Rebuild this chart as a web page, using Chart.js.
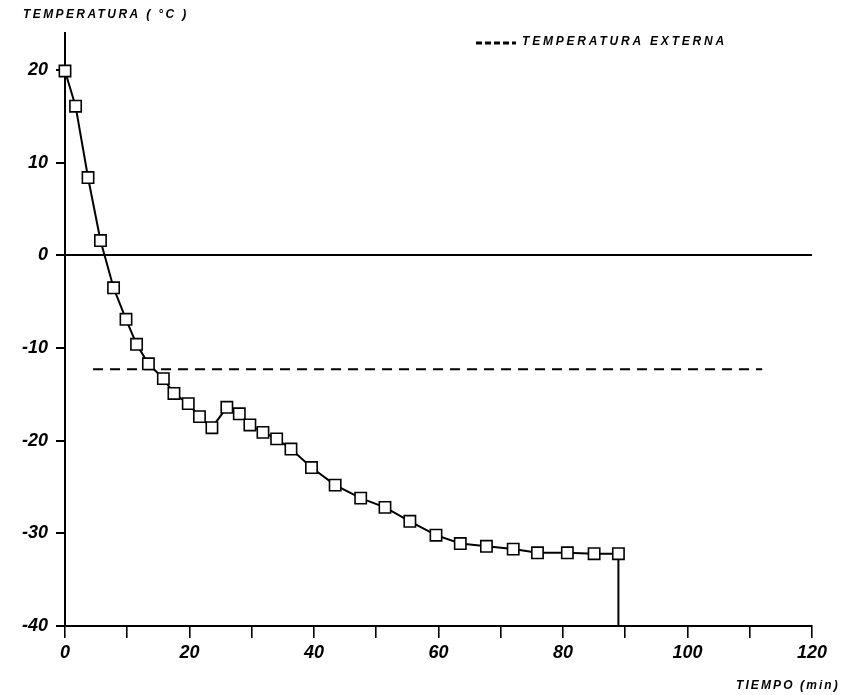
<!DOCTYPE html>
<html lang="es">
  <head>
    <meta charset="UTF-8" />
    <title>Temperatura vs tiempo</title>
    <script src="https://cdn.jsdelivr.net/npm/chart.js@4.4.0/dist/chart.umd.min.js"></script>
    <style>
      body { margin: 0; background: #fff; }
    </style>
  </head>
  <body>
    <canvas id="chart" width="848" height="695"></canvas>
    <script>
      // lecturas del grafico (min, °C)
      const timeMin = [0, 1.7, 3.7, 5.7, 7.8, 9.8, 11.5, 13.4, 15.8, 17.5, 19.8, 21.6, 23.6, 26.0, 28.0, 29.7,
        31.8, 34.0, 36.3, 39.6, 43.4, 47.5, 51.4, 55.4, 59.6, 63.5, 67.7, 72.0, 75.9, 80.7, 85.0, 88.9];
      const tempC = [19.9, 16.1, 8.4, 1.6, -3.5, -6.9, -9.6, -11.7, -13.3, -14.9, -16.0, -17.4, -18.6, -16.4, -17.1, -18.3,
        -19.1, -19.8, -20.9, -22.9, -24.8, -26.2, -27.2, -28.7, -30.2, -31.1, -31.4, -31.7, -32.1, -32.1, -32.2, -32.2];
      // temperatura externa (linea discontinua)
      const extTime = [4.5, 112];
      const extTemp = [-12.3, -12.3];
      // caida final hasta el eje
      const dropTemp = -40;

      const xTicks = [0, 10, 20, 30, 40, 50, 60, 70, 80, 90, 100, 110, 120];
      const yTicks = [-40, -30, -20, -10, 0, 10, 20];

      const FONT = '"Liberation Sans", Arial, sans-serif';

      const series = timeMin.map((t, i) => ({ x: t, y: tempC[i] }));
      const ext = extTime.map((t, i) => ({ x: t, y: extTemp[i] }));
      const last = series[series.length - 1];
      const drop = [{ x: last.x, y: last.y }, { x: last.x, y: dropTemp }];

      const labelsPlugin = {
        id: 'labels',
        afterDraw(chart) {
          const ctx = chart.ctx;
          ctx.save();
          ctx.fillStyle = '#000';
          ctx.textBaseline = 'middle';
          ctx.font = 'italic 900 12px ' + FONT;
          ctx.letterSpacing = '2.4px';
          ctx.fillText('TEMPERATURA ( °C )', 23, 15);
          ctx.letterSpacing = '2.8px';
          ctx.fillText('TEMPERATURA EXTERNA', 522, 42);
          ctx.letterSpacing = '2.1px';
          ctx.fillText('TIEMPO (min)', 736, 686);
          // muestra de la leyenda
          ctx.strokeStyle = '#000';
          ctx.lineWidth = 3;
          ctx.setLineDash([6, 3]);
          ctx.beginPath();
          ctx.moveTo(476, 43);
          ctx.lineTo(516, 43);
          ctx.stroke();
          ctx.restore();
        }
      };

      new Chart(document.getElementById('chart'), {
        type: 'scatter',
        data: {
          datasets: [
            {
              label: 'Temperatura',
              data: series,
              showLine: true,
              borderColor: '#000',
              borderWidth: 2,
              pointStyle: 'rect',
              pointRadius: 8,
              pointBorderWidth: 1.6,
              pointBackgroundColor: '#fff',
              pointBorderColor: '#000',
              order: 0
            },
            {
              label: 'Caida',
              data: drop,
              showLine: true,
              borderColor: '#000',
              borderWidth: 2,
              pointRadius: 0,
              order: 1
            },
            {
              label: 'Temperatura externa',
              data: ext,
              showLine: true,
              borderColor: '#000',
              borderWidth: 2,
              borderDash: [10, 7],
              pointRadius: 0,
              order: 2
            }
          ]
        },
        options: {
          responsive: false,
          animation: false,
          clip: false,
          layout: { padding: { top: 33, right: 36, left: 0, bottom: 0 } },
          plugins: { legend: { display: false }, tooltip: { enabled: false } },
          scales: {
            x: {
              type: 'linear',
              min: 0,
              max: 120,
              afterBuildTicks: s => { s.ticks = xTicks.map(v => ({ value: v })); },
              afterFit: s => { s.height = 69; },
              ticks: {
                callback: v => (v % 20 === 0 ? v : ''),
                color: '#000',
                padding: 4,
                maxRotation: 0,
                autoSkip: false,
                font: { family: FONT, size: 18, style: 'italic', weight: 'bold' }
              },
              grid: { drawOnChartArea: false, drawTicks: true, tickLength: 12, color: '#000', lineWidth: 1.6 },
              border: { display: true, color: '#000', width: 2 }
            },
            y: {
              min: -40,
              max: 24,
              afterBuildTicks: s => { s.ticks = yTicks.map(v => ({ value: v })); },
              afterFit: s => { s.width = 65; },
              ticks: {
                color: '#000',
                padding: 8,
                font: { family: FONT, size: 18, style: 'italic', weight: 'bold' }
              },
              grid: {
                drawOnChartArea: true,
                drawTicks: true,
                tickLength: 9,
                color: c => (c.tick && c.tick.value === 0 ? '#000' : 'rgba(0,0,0,0)'),
                tickColor: '#000',
                lineWidth: 2
              },
              border: { display: true, color: '#000', width: 2 }
            }
          }
        },
        plugins: [labelsPlugin]
      });
    </script>
  </body>
</html>
